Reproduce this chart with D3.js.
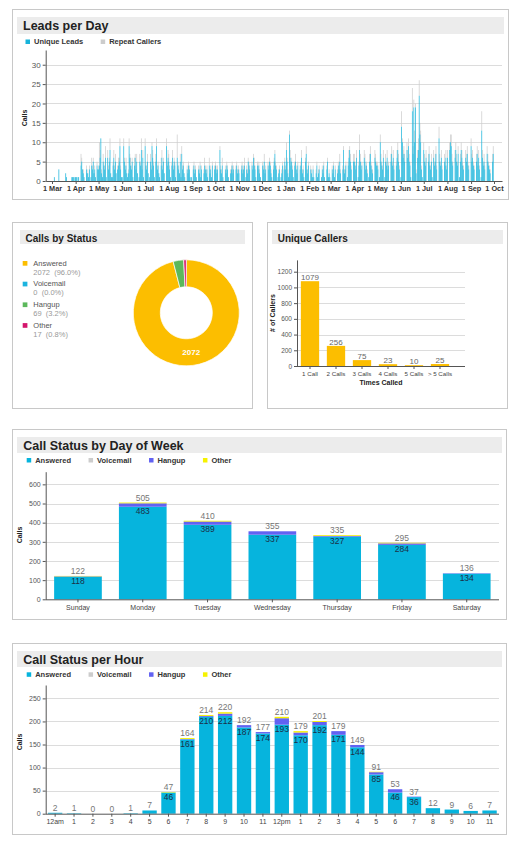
<!DOCTYPE html>
<html><head><meta charset="utf-8">
<script src="https://cdn.jsdelivr.net/npm/d3@7"></script>
<style>
body{margin:0;background:#fff;}
svg{display:block;font-family:"Liberation Sans",Arial,Helvetica,sans-serif;}
</style></head><body>
<svg id="c" width="524" height="850"></svg>
<script>
// ---------------- DATA ----------------
const leadStart = [2013, 2, 1]; // 1 Mar 2013, one value per day to 30 Sep 2014
const uniqueLeads = [
 // Mar 2013
 0,0,0,1,0,0,0,0,0,3,0,0,0,0,0,0,0,0,2,1,0,0,0,0,0,0,1,1,1,0,1,
 // Apr
 1,1,0,1,1,0,0,4,5,3,2,1,0,0,3,2,2,1,3,0,1,4,3,5,2,3,1,0,4,3,
 // May
 3,4,6,11,2,1,5,4,3,6,1,0,6,3,5,8,2,1,1,4,6,3,5,2,0,3,4,5,9,3,1,
 // Jun
 1,0,9,5,3,4,2,1,2,9,6,4,3,5,1,0,4,6,3,5,2,0,1,5,4,8,3,6,1,0,
 // Jul
 9,4,3,5,2,0,1,5,3,9,6,4,1,0,5,9,3,4,2,1,0,4,6,3,5,2,0,0,9,4,6,
 // Aug
 5,3,1,0,4,6,3,5,4,1,0,6,4,3,2,5,1,7,3,4,2,1,0,0,3,2,4,3,1,0,1,
 // Sep
 0,3,4,2,3,1,0,0,3,2,4,1,3,0,0,2,4,3,2,3,1,0,4,2,3,1,4,0,0,3,
 // Oct
 4,3,2,3,0,0,8,3,2,4,1,0,0,3,2,4,3,1,0,0,2,3,4,2,3,0,0,3,4,2,3,
 // Nov
 2,0,0,3,4,2,3,4,0,1,3,2,5,4,3,0,0,4,3,6,4,3,1,0,4,3,4,2,1,0,
 // Dec
 0,4,3,5,2,3,0,0,4,3,5,4,2,1,0,3,5,7,4,3,0,1,2,3,0,1,2,4,0,3,5,
 // Jan 2014
 3,8,5,2,1,12,6,4,5,3,1,0,4,5,3,2,4,0,0,3,4,6,2,3,1,0,5,7,3,2,4,
 // Feb
 0,0,3,2,1,3,1,0,0,2,4,1,2,3,0,0,1,3,2,4,1,0,0,3,5,1,2,1,
 // Mar
 0,0,3,2,4,1,3,0,0,2,4,3,5,2,0,0,3,8,2,3,4,0,1,4,6,8,5,3,0,0,5,
 // Apr
 5,4,3,6,0,1,4,8,5,3,4,0,0,6,5,3,4,2,0,1,5,7,4,3,2,0,0,6,5,4,
 // May
 4,3,0,1,10,5,4,3,6,0,1,5,4,6,3,4,0,0,5,7,4,6,3,0,0,4,6,8,5,3,0,
 // Jun
 1,14,10,6,7,5,0,0,8,6,9,5,4,1,0,18,7,19,10,19,2,0,6,8,22,12,10,3,1,0,
 // Jul
 8,5,4,6,0,0,5,7,4,3,5,1,0,6,4,5,7,3,0,0,11,5,4,6,3,0,0,5,4,6,3,
 // Aug
 6,0,0,8,10,9,5,4,0,0,6,8,5,4,7,0,1,5,8,6,4,3,0,0,6,5,7,4,3,0,0,
 // Sep
 9,5,6,4,3,0,0,5,7,4,6,3,0,1,13,6,4,5,3,0,0,7,5,4,3,2,0,0,5,7
];
const repeatCallers = [
 // Mar 2013
 0,0,0,0,0,0,0,0,0,0,0,0,0,0,0,0,0,0,0,0,0,0,0,0,0,0,0,0,0,0,0,
 // Apr
 0,0,0,0,0,0,0,3,1,0,1,0,0,0,1,0,1,0,1,0,0,2,1,1,0,1,0,0,1,0,
 // May
 1,6,2,0,1,0,2,1,1,3,0,0,2,1,1,3,0,0,0,1,2,1,2,0,0,1,2,1,2,1,0,
 // Jun
 0,0,2,1,1,2,0,0,1,2,1,2,1,1,0,0,2,1,1,2,0,0,0,2,1,3,1,2,0,0,
 // Jul
 2,1,1,2,0,0,0,2,1,1,2,1,0,0,2,2,1,1,0,0,0,2,2,1,1,0,0,0,2,1,2,
 // Aug
 2,1,0,0,1,2,1,1,1,0,0,6,1,1,0,2,0,2,1,1,0,0,0,0,1,1,1,1,0,0,0,
 // Sep
 0,1,1,1,1,0,0,0,1,1,1,0,1,0,0,1,2,1,1,1,0,0,2,1,1,0,1,0,0,1,
 // Oct
 1,1,1,1,0,0,1,1,1,2,0,0,0,1,1,1,1,0,0,0,1,1,1,1,1,0,0,1,1,1,1,
 // Nov
 1,0,0,1,1,1,1,2,0,0,1,1,1,1,1,0,0,1,1,1,2,1,0,0,1,1,1,1,0,0,
 // Dec
 0,1,1,2,1,1,0,0,1,1,1,1,1,0,0,1,1,1,1,1,0,0,1,1,0,0,1,1,0,1,1,
 // Jan 2014
 1,2,1,1,0,1,2,1,1,1,0,0,1,2,1,1,1,0,0,1,1,2,1,1,0,0,1,2,1,1,1,
 // Feb
 0,0,1,1,0,1,0,0,0,1,1,0,1,1,0,0,0,1,1,1,0,0,0,1,1,0,1,0,
 // Mar
 0,0,1,1,1,0,1,0,0,1,1,1,2,1,0,0,1,1,1,1,1,0,0,1,2,1,2,1,0,0,2,
 // Apr
 2,1,1,2,0,0,1,4,2,1,1,0,0,2,2,1,1,1,0,0,2,2,1,1,1,0,0,2,2,1,
 // May
 1,1,0,0,2,2,1,1,2,0,0,2,1,2,1,1,0,0,2,2,1,2,1,0,0,1,2,2,2,1,0,
 // Jun
 0,4,1,2,2,2,0,0,2,2,2,2,1,0,0,6,2,2,3,1,1,0,2,3,4,3,3,1,0,0,
 // Jul
 2,2,1,2,0,0,2,2,1,1,2,0,0,2,1,2,2,1,0,0,3,2,1,2,1,0,0,2,1,2,1,
 // Aug
 2,0,0,2,2,3,2,1,0,0,2,2,2,1,2,0,0,2,2,2,1,1,0,0,2,2,2,1,1,0,0,
 // Sep
 2,2,2,1,1,0,0,2,2,1,2,1,0,0,5,2,1,2,1,0,0,2,2,1,1,1,0,0,2,2
];
const leadYTicks = [0,5,10,15,20,25,30];

const statusNames = ["Answered","Voicemail","Hangup","Other"];
const statusTotals = [2072, 0, 69, 17];
const statusPct = ["96.0%","0.0%","3.2%","0.8%"];

const callerCats = ["1 Call","2 Calls","3 Calls","4 Calls","5 Calls","> 5 Calls"];
const callerCounts = [1079, 256, 75, 23, 10, 25];
const callerTicks = [0,200,400,600,800,1000,1200];

const weekDays = ["Sunday","Monday","Tuesday","Wednesday","Thursday","Friday","Saturday"];
const dayAnswered  = [118, 483, 389, 337, 327, 284, 134];
const dayVoicemail = [0, 0, 0, 0, 0, 0, 0];
const dayHangup    = [2, 18, 17, 18, 4, 8, 2];
const dayOther     = [2, 4, 4, 0, 4, 3, 0];
const dayTicks = [0,100,200,300,400,500,600];

const hourLabels = ["12am","1","2","3","4","5","6","7","8","9","10","11","12pm","1","2","3","4","5","6","7","8","9","10","11"];
const hourAnswered  = [2,1,0,0,1,7,46,161,210,212,187,174,193,170,192,171,144,85,46,36,12,9,6,7];
const hourVoicemail = [0,0,0,0,0,0,0,0,0,0,0,0,0,0,0,0,0,0,0,0,0,0,0,0];
const hourHangup    = [0,0,0,0,0,0,0,1,2,5,5,3,14,6,7,8,5,5,7,1,0,0,0,0];
const hourOther     = [0,0,0,0,0,0,1,2,2,3,0,0,3,3,2,0,0,1,0,0,0,0,0,0];
const hourTicks = [0,50,100,150,200,250];

// ---------------- STYLE ----------------
const C = {
  lead: "#17b3da", repeat: "#cccccc",
  ans: "#06b4dd", vm: "#cccccc", hang: "#6262f2", oth: "#f6f200",
  pAns: "#fcbe00", pVm: "#1cb4df", pHang: "#5cb85c", pOth: "#d4156c",
  bar: "#fcbe00"
};
const svg = d3.select("#c");

function panel(x, y, w, h, tb, title, fs, tx, ty) {
  svg.append("rect").attr("x", x + 0.5).attr("y", y + 0.5).attr("width", w).attr("height", h)
    .attr("fill", "#fff").attr("stroke", "#c8c8c8");
  svg.append("rect").attr("x", tb[0]).attr("y", tb[1]).attr("width", tb[2]).attr("height", tb[3]).attr("fill", "#ececec");
  svg.append("text").attr("x", tx).attr("y", ty).attr("font-size", fs).attr("font-weight", "bold")
    .attr("fill", "#222").text(title);
}
function legend(x, sqTop, base, names, colors) {
  let cx = x;
  names.forEach((n, i) => {
    svg.append("rect").attr("x", cx).attr("y", sqTop).attr("width", 4.5).attr("height", 4.5).attr("fill", colors[i]);
    const t = svg.append("text").attr("x", cx + 8.5).attr("y", base).attr("font-size", 7.5)
      .attr("font-weight", "bold").attr("fill", "#333").text(n);
    cx += 8.5 + t.node().getComputedTextLength() + 17.5;
  });
}
function yAxis(g, scale, ticks, x) {
  const a = g.append("g").attr("transform", `translate(${x},0)`)
    .call(d3.axisLeft(scale).tickValues(ticks).tickFormat(d3.format("d")).tickSizeInner(3).tickSizeOuter(0).tickPadding(2));
  a.select(".domain").attr("stroke", "#555");
  a.selectAll(".tick line").attr("stroke", "#555");
  a.selectAll("text").attr("font-size", 7).attr("fill", "#555").attr("font-family", null);
  return a;
}
function grid(g, scale, ticks, x0, x1) {
  g.selectAll(null).data(ticks.filter(t => t > 0)).enter().append("line")
    .attr("x1", x0).attr("x2", x1).attr("y1", d => Math.round(scale(d)) + 0.5).attr("y2", d => Math.round(scale(d)) + 0.5)
    .attr("stroke", "#dcdcdc");
}
function rotLabel(x, y, txt) {
  svg.append("text").attr("transform", `translate(${x},${y}) rotate(-90)`).attr("text-anchor", "middle")
    .attr("font-size", 7).attr("font-weight", "bold").attr("fill", "#222").text(txt);
}

// ---------------- PANEL 1: Leads per Day ----------------
panel(12, 9, 496, 190, [17, 17, 487, 17], "Leads per Day", 12.5, 23, 30);
legend(25.5, 39.5, 44, ["Unique Leads", "Repeat Callers"], [C.lead, C.repeat]);
{
  const g = svg.append("g");
  const x = d3.scaleTime().domain([new Date(2013, 1, 20, 18), new Date(2014, 9, 11, 12)]).range([45.7, 502]);
  const y = d3.scaleLinear().domain([0, 33.8]).range([181, 50]);
  grid(g, y, leadYTicks, 45.7, 502);
  const days = uniqueLeads.map((u, i) => ({
    d: d3.timeDay.offset(new Date(leadStart[0], leadStart[1], leadStart[2]), i), u, r: repeatCallers[i]
  }));
  const w = 0.72;
  g.selectAll(".r").data(days).enter().append("rect")
    .attr("x", d => x(d.d) - w / 2).attr("width", w)
    .attr("y", d => y(d.u + d.r)).attr("height", d => y(d.u) - y(d.u + d.r)).attr("fill", C.repeat);
  g.selectAll(".u").data(days).enter().append("rect")
    .attr("x", d => x(d.d) - w / 2).attr("width", w)
    .attr("y", d => y(d.u)).attr("height", d => y(0) - y(d.u)).attr("fill", C.lead);
  yAxis(g, y, leadYTicks, 45.7).selectAll("text").attr("font-size", 8);
  const xa = g.append("g").attr("transform", "translate(0,181)")
    .call(d3.axisBottom(x).ticks(d3.timeMonth.every(1)).tickFormat(d3.timeFormat("%-d %b")).tickSizeInner(3).tickSizeOuter(0).tickPadding(2));
  xa.select(".domain").attr("stroke", "#555");
  xa.selectAll(".tick line").attr("stroke", "#555");
  xa.selectAll("text").attr("font-size", 7.3).attr("font-weight", "bold").attr("fill", "#333").attr("font-family", null);
  rotLabel(27, 118, "Calls");
}

// ---------------- PANEL 2: Calls by Status ----------------
panel(12, 222, 240, 186, [20, 230, 225, 14], "Calls by Status", 10, 25.5, 241.5);
{
  const cols = [C.pAns, C.pVm, C.pHang, C.pOth];
  statusNames.forEach((n, i) => {
    const b = 265.7 + i * 20.7;
    svg.append("rect").attr("x", 22.7).attr("y", b - 4.7).attr("width", 4.7).attr("height", 4.7).attr("fill", cols[i]);
    svg.append("text").attr("x", 33.3).attr("y", b).attr("font-size", 7.5).attr("fill", "#555").text(n);
    svg.append("text").attr("x", 33.3).attr("y", b + 8.8).attr("font-size", 7.5).attr("fill", "#999")
      .attr("xml:space", "preserve").text(statusTotals[i] + "  (" + statusPct[i] + ")");
  });
  const g = svg.append("g").attr("transform", "translate(186.3,312.8)");
  const pie = d3.pie().sort(null).value(d => d)(statusTotals);
  const arc = d3.arc().innerRadius(26).outerRadius(53);
  g.selectAll("path").data(pie.filter(p => p.value > 0)).enter().append("path")
    .attr("d", arc).attr("fill", d => cols[d.index]).attr("stroke", "#fff").attr("stroke-width", 0.7);
  const c = arc.centroid(pie[0]);
  g.append("text").attr("x", c[0]).attr("y", c[1]).attr("dy", "0.35em").attr("text-anchor", "middle")
    .attr("font-size", 8).attr("font-weight", "bold").attr("fill", "#fff").text(statusTotals[0]);
}

// ---------------- PANEL 3: Unique Callers ----------------
panel(267, 222, 240, 186, [272, 230, 231, 14], "Unique Callers", 10, 277.7, 241.5);
{
  const g = svg.append("g");
  const x = d3.scaleBand().domain(callerCats).range([297, 453]).paddingInner(0.296).paddingOuter(0.148);
  const y = d3.scaleLinear().domain([0, 1350]).range([366, 259.9]);
  grid(g, y, callerTicks, 297, 465);
  g.selectAll("rect.b").data(callerCounts).enter().append("rect")
    .attr("x", (d, i) => x(callerCats[i])).attr("width", x.bandwidth())
    .attr("y", d => y(d)).attr("height", d => y(0) - y(d)).attr("fill", C.bar);
  g.selectAll("text.v").data(callerCounts).enter().append("text")
    .attr("x", (d, i) => x(callerCats[i]) + x.bandwidth() / 2).attr("y", d => y(d) - 1)
    .attr("text-anchor", "middle").attr("font-size", 8).attr("fill", "#666").text(d => d);
  yAxis(g, y, callerTicks, 297).selectAll("text").attr("font-size", 6.5);
  g.append("line").attr("x1", 297).attr("x2", 465).attr("y1", 366.5).attr("y2", 366.5).attr("stroke", "#555");
  callerCats.forEach(c => {
    const cx = x(c) + x.bandwidth() / 2;
    g.append("line").attr("x1", cx).attr("x2", cx).attr("y1", 366).attr("y2", 369).attr("stroke", "#555");
    g.append("text").attr("x", cx).attr("y", 375.5).attr("text-anchor", "middle").attr("font-size", 6.2)
      .attr("fill", "#444").text(c);
  });
  g.append("text").attr("x", 381).attr("y", 384.5).attr("text-anchor", "middle").attr("font-size", 7)
    .attr("font-weight", "bold").attr("fill", "#222").text("Times Called");
  rotLabel(275, 313, "# of Callers");
}

// ---------------- stacked chart helper ----------------
function stacked(cats, series, cols, y0, yTop, dmax, ticks, pIn, pOut, labY, ansMin, yLabelY) {
  const g = svg.append("g");
  const x = d3.scaleBand().domain(d3.range(cats.length)).range([45.7, 499]).paddingInner(pIn).paddingOuter(pOut);
  const y = d3.scaleLinear().domain([0, dmax]).range([y0, yTop]);
  grid(g, y, ticks, 45.7, 499);
  const rows = cats.map((c, i) => { const o = { i }; series.forEach((s, k) => o["s" + k] = s[i]); return o; });
  const st = d3.stack().keys(series.map((s, k) => "s" + k))(rows);
  st.forEach((layer, k) => {
    g.selectAll(null).data(layer).enter().append("rect")
      .attr("x", d => x(d.data.i)).attr("width", x.bandwidth())
      .attr("y", d => y(d[1])).attr("height", d => y(d[0]) - y(d[1])).attr("fill", cols[k]);
  });
  const totals = cats.map((c, i) => series.reduce((a, s) => a + s[i], 0));
  totals.forEach((t, i) => {
    const cx = x(i) + x.bandwidth() / 2;
    g.append("text").attr("x", cx).attr("y", y(t) - 2).attr("text-anchor", "middle").attr("font-size", 8.5)
      .attr("fill", "#777").text(t);
    if (series[0][i] >= ansMin)
      g.append("text").attr("x", cx).attr("y", y(series[0][i]) + 7.6).attr("text-anchor", "middle")
        .attr("font-size", 8.5).attr("fill", "#1b2f47").text(series[0][i]);
  });
  yAxis(g, y, ticks, 45.7);
  g.append("line").attr("x1", 45.7).attr("x2", 499).attr("y1", y0 + 0.5).attr("y2", y0 + 0.5).attr("stroke", "#555");
  cats.forEach((c, i) => {
    const cx = x(i) + x.bandwidth() / 2;
    g.append("line").attr("x1", cx).attr("x2", cx).attr("y1", y0).attr("y2", y0 + 3).attr("stroke", "#555");
    g.append("text").attr("x", cx).attr("y", labY).attr("text-anchor", "middle").attr("font-size", 7)
      .attr("fill", "#444").text(c);
  });
  rotLabel(22, yLabelY, "Calls");
}

// ---------------- PANEL 4: Call Status by Day of Week ----------------
panel(12, 429, 494, 190, [17, 437, 485, 16], "Call Status by Day of Week", 12.5, 23.3, 449.5);
legend(26.7, 458, 462.5, statusNames, [C.ans, C.vm, C.hang, C.oth]);
stacked(weekDays, [dayAnswered, dayVoicemail, dayHangup, dayOther], [C.ans, C.vm, C.hang, C.oth],
  599.3, 471.7, 666, dayTicks, 0.264, 0.13, 610, 20, 535);

// ---------------- PANEL 5: Call Status per Hour ----------------
panel(12, 643, 494, 191, [17, 651, 485, 16], "Call Status per Hour", 12.5, 23.3, 663.5);
legend(26.7, 672.3, 676.7, statusNames, [C.ans, C.vm, C.hang, C.oth]);
stacked(hourLabels, [hourAnswered, hourVoicemail, hourHangup, hourOther], [C.ans, C.vm, C.hang, C.oth],
  813.7, 685, 279, hourTicks, 0.24, 0.12, 824.3, 20, 742);
</script>
</body></html>
